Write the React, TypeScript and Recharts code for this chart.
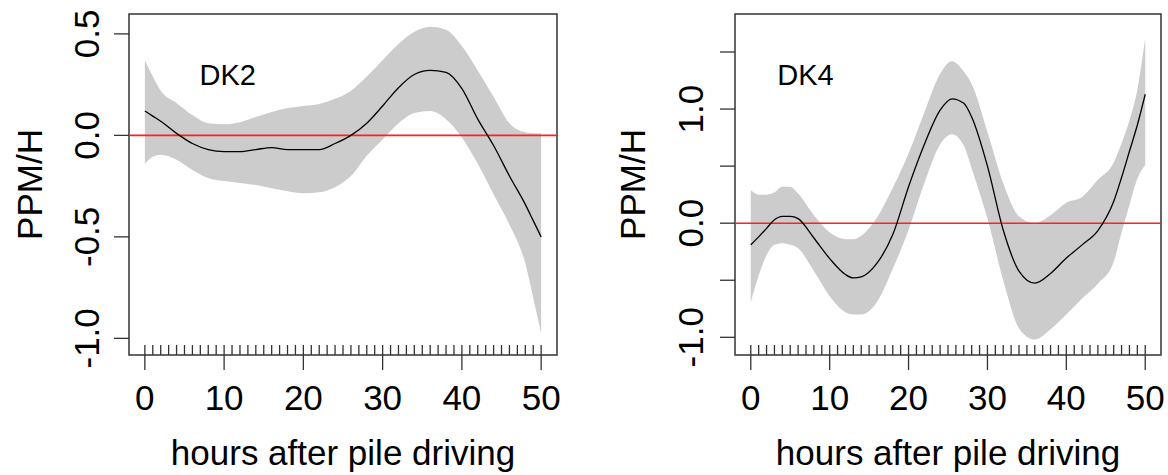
import React from 'react';
import {
  ComposedChart,
  Area,
  Line,
  XAxis,
  YAxis,
  ReferenceLine,
  ReferenceArea,
  ReferenceDot,
  Label,
} from 'recharts';

const FONT = '"Liberation Sans", Arial, Helvetica, sans-serif';
const AXIS = '#333';
const BAND = '#cccccc';

// DK2 panel
const hoursDK2 = [0, 1, 2, 4, 6, 8, 10, 12, 14, 16, 18, 20, 22, 24, 26, 28, 30, 32, 34, 36, 38, 40, 42, 44, 46, 48, 49, 50];
const fitDK2 = [0.12, 0.095, 0.07, 0.01, -0.04, -0.07, -0.08, -0.08, -0.07, -0.06, -0.07, -0.07, -0.07, -0.04, 0.0, 0.06, 0.145, 0.235, 0.3, 0.32, 0.31, 0.23, 0.08, -0.05, -0.2, -0.34, -0.42, -0.5];
const upperDK2 = [0.37, 0.29, 0.22, 0.16, 0.1, 0.06, 0.055, 0.065, 0.09, 0.115, 0.135, 0.145, 0.155, 0.18, 0.22, 0.29, 0.37, 0.45, 0.51, 0.535, 0.52, 0.44, 0.32, 0.19, 0.06, 0.015, 0.01, 0.01];
const lowerDK2 = [-0.14, -0.105, -0.095, -0.12, -0.17, -0.21, -0.225, -0.235, -0.245, -0.26, -0.275, -0.285, -0.28, -0.255, -0.2, -0.1, -0.02, 0.06, 0.11, 0.12, 0.08, -0.01, -0.14, -0.29, -0.44, -0.63, -0.8, -0.975];
const yTicksDK2 = [-1, -0.5, 0, 0.5];
const yLabelsDK2 = ['-1.0', '-0.5', '0.0', '0.5'];

// DK4 panel
const hoursDK4 = [0, 1, 2, 3, 4, 5, 6, 8, 10, 12, 13, 14, 16, 18, 20, 22, 24, 25.5, 27, 28, 30, 32, 34, 36, 38, 40, 42, 44, 46, 47, 48, 49, 50];
const fitDK4 = [-0.19, -0.12, -0.045, 0.03, 0.06, 0.06, 0.04, -0.13, -0.31, -0.45, -0.48, -0.47, -0.35, -0.1, 0.32, 0.69, 0.99, 1.09, 1.05, 0.93, 0.5, -0.06, -0.42, -0.525, -0.44, -0.305, -0.19, -0.065, 0.19, 0.4, 0.63, 0.86, 1.13];
const upperDK4 = [0.29, 0.25, 0.25, 0.27, 0.32, 0.32, 0.26, 0.07, -0.08, -0.14, -0.14, -0.11, 0.05, 0.31, 0.61, 0.97, 1.31, 1.42, 1.33, 1.22, 0.8, 0.35, 0.06, 0.0, 0.07, 0.18, 0.23, 0.38, 0.53, 0.7, 0.9, 1.17, 1.62];
const lowerDK4 = [-0.69, -0.46, -0.28, -0.19, -0.175, -0.19, -0.22, -0.42, -0.64, -0.78, -0.8, -0.8, -0.69, -0.4, -0.06, 0.35, 0.69, 0.78, 0.68, 0.48, 0.04, -0.5, -0.92, -1.02, -0.93, -0.8, -0.66, -0.53, -0.34, -0.08, 0.16, 0.39, 0.51];
const yTicksDK4 = [-1, -0.5, 0, 0.5, 1, 1.5];
const yLabelsDK4 = ['-1.0', '', '0.0', '', '1.0', ''];

// shared x axis
const xTicks = [0, 10, 20, 30, 40, 50];
const rugHours = [0, 1, 2, 3, 4, 5, 6, 7, 8, 9, 10, 11, 12, 13, 14, 15, 16, 17, 18, 19, 20, 21, 22, 23, 24, 25, 26, 27, 28, 29, 30, 31, 32, 33, 34, 35, 36, 37, 38, 39, 40, 41, 42, 43, 44, 45, 46, 47, 48, 49, 50];
const xDomain = [-2, 52];

const XTick = (props: any) => {
  const { x, y, payload } = props;
  const major = xTicks.includes(payload.value);
  return (
    <g>
      <line x1={x} x2={x} y1={y} y2={y - 10} stroke={AXIS} strokeWidth={1.3} />
      {major && <line x1={x} x2={x} y1={y} y2={y + 15} stroke={AXIS} strokeWidth={1.3} />}
      {major && (
        <text x={x} y={y + 55} textAnchor="middle" fontSize={35} fontFamily={FONT} fill="#000">
          {payload.value}
        </text>
      )}
    </g>
  );
};

interface PanelProps {
  name: string;
  namePos: [number, number];
  hours: number[];
  fit: number[];
  upper: number[];
  lower: number[];
  yDomain: [number, number];
  yTicks: number[];
  yLabels: string[];
  yAxisWidth: number;
  marginRight: number;
  titleX: number;
  labelGap: number;
}

const Panel = (p: PanelProps) => {
  const data = p.hours.map((h, i) => ({ h, fit: p.fit[i], band: [p.lower[i], p.upper[i]] }));

  const YTick = (t: any) => {
    const { x, y, payload } = t;
    const label = p.yLabels[p.yTicks.indexOf(payload.value)];
    const tx = x - p.labelGap;
    return (
      <g>
        <line x1={x} x2={x - 15} y1={y} y2={y} stroke={AXIS} strokeWidth={1.3} />
        {label && (
          <text
            x={tx}
            y={y}
            transform={`rotate(-90 ${tx} ${y})`}
            textAnchor="middle"
            fontSize={35}
            fontFamily={FONT}
            fill="#000"
          >
            {label}
          </text>
        )}
      </g>
    );
  };

  return (
    <ComposedChart
      width={584}
      height={475}
      data={data}
      margin={{ top: 14, right: p.marginRight, bottom: 0, left: 0 }}
    >
      <XAxis
        dataKey="h"
        type="number"
        domain={xDomain}
        allowDataOverflow
        ticks={rugHours}
        interval={0}
        tick={XTick}
        tickLine={false}
        tickSize={0}
        tickMargin={0}
        axisLine={false}
        height={120}
      >
        <Label
          content={(l: any) => {
            const vb = l.viewBox;
            return (
              <text
                x={vb.x + vb.width / 2}
                y={vb.y + 110}
                textAnchor="middle"
                fontSize={35}
                fontFamily={FONT}
                fill="#000"
              >
                hours after pile driving
              </text>
            );
          }}
        />
      </XAxis>
      <YAxis
        type="number"
        domain={p.yDomain}
        allowDataOverflow
        ticks={p.yTicks}
        interval={0}
        tick={YTick}
        tickLine={false}
        tickSize={0}
        tickMargin={0}
        axisLine={false}
        width={p.yAxisWidth}
      >
        <Label
          content={(l: any) => {
            const vb = l.viewBox;
            const tx = vb.x + p.titleX;
            const ty = vb.y + vb.height / 2;
            return (
              <text
                x={tx}
                y={ty}
                transform={`rotate(-90 ${tx} ${ty})`}
                textAnchor="middle"
                fontSize={35}
                fontFamily={FONT}
                fill="#000"
              >
                PPM/H
              </text>
            );
          }}
        />
      </YAxis>
      <Area
        dataKey="band"
        type="monotone"
        fill={BAND}
        fillOpacity={1}
        stroke="none"
        isAnimationActive={false}
      />
      <ReferenceLine y={0} stroke="#ff2020" strokeWidth={1.6} />
      <Line
        dataKey="fit"
        type="monotone"
        stroke="#000"
        strokeWidth={1.3}
        dot={false}
        isAnimationActive={false}
      />
      <ReferenceArea
        x1={xDomain[0]}
        x2={xDomain[1]}
        y1={p.yDomain[0]}
        y2={p.yDomain[1]}
        fill="none"
        fillOpacity={0}
        stroke={AXIS}
        strokeWidth={1.5}
      />
      <ReferenceDot
        x={p.namePos[0]}
        y={p.namePos[1]}
        r={0}
        shape={(s: any) => (
          <text x={s.cx} y={s.cy} textAnchor="start" fontSize={29} fontFamily={FONT} fill="#000">
            {p.name}
          </text>
        )}
      />
    </ComposedChart>
  );
};

export default function App() {
  return (
    <div
      style={{
        position: 'absolute',
        left: 0,
        top: 0,
        width: 1168,
        height: 475,
        background: '#fff',
        display: 'flex',
        fontFamily: FONT,
      }}
    >
      <Panel
        name="DK2"
        namePos={[6.9, 0.25]}
        hours={hoursDK2}
        fit={fitDK2}
        upper={upperDK2}
        lower={lowerDK2}
        yDomain={[-1.082, 0.598]}
        yTicks={yTicksDK2}
        yLabels={yLabelsDK2}
        yAxisWidth={129}
        marginRight={27}
        titleX={42}
        labelGap={30}
      />
      <Panel
        name="DK4"
        namePos={[3.35, 1.213]}
        hours={hoursDK4}
        fit={fitDK4}
        upper={upperDK4}
        lower={lowerDK4}
        yDomain={[-1.155, 1.833]}
        yTicks={yTicksDK4}
        yLabels={yLabelsDK4}
        yAxisWidth={151}
        marginRight={7}
        titleX={61}
        labelGap={32}
      />
    </div>
  );
}
